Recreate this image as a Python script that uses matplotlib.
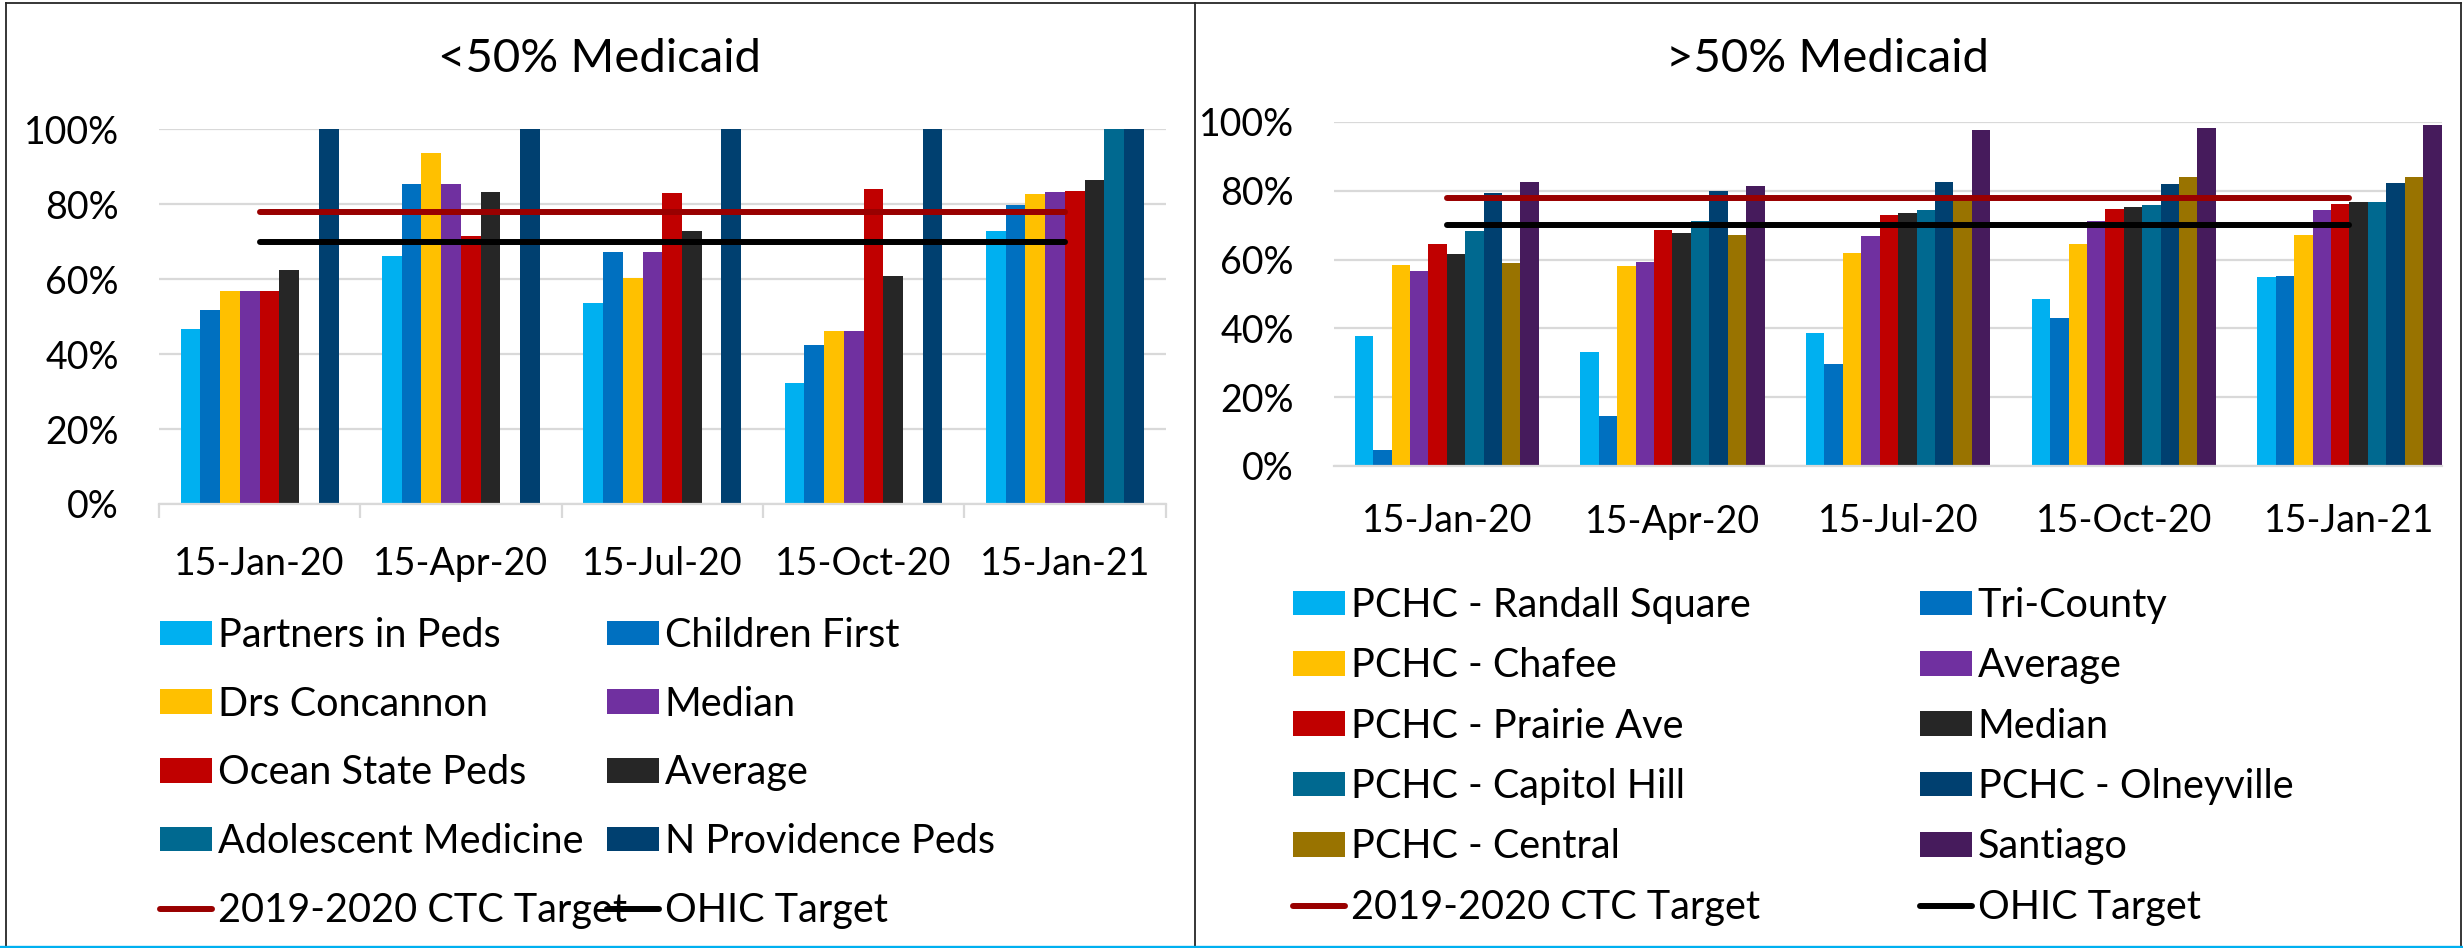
import numpy as np
import matplotlib.pyplot as plt
from matplotlib.patches import Patch
from matplotlib.lines import Line2D
from matplotlib.ticker import PercentFormatter

plt.rcParams['font.family'] = ['Lato', 'DejaVu Sans']

W, H = 2463, 948
dates = ['15-Jan-20', '15-Apr-20', '15-Jul-20', '15-Oct-20', '15-Jan-21']

# <50% Medicaid practices
low_names = ['Partners in Peds', 'Children First', 'Drs Concannon', 'Median',
             'Ocean State Peds', 'Average', 'Adolescent Medicine', 'N Providence Peds']
partners_in_peds = [0.466, 0.662, 0.538, 0.323, 0.730]
children_first = [0.517, 0.854, 0.673, 0.425, 0.798]
drs_concannon = [0.569, 0.936, 0.603, 0.461, 0.827]
low_median = [0.569, 0.854, 0.673, 0.461, 0.832]
ocean_state_peds = [0.569, 0.716, 0.830, 0.842, 0.835]
low_average = [0.624, 0.834, 0.729, 0.609, 0.866]
adolescent_medicine = [np.nan, np.nan, np.nan, np.nan, 1.0]
n_providence_peds = [1.0, 1.0, 1.0, 1.0, 1.0]
low_colors = ['#00B0F0', '#0070C0', '#FFC000', '#7030A0',
              '#C00000', '#262626', '#006990', '#004070']

# >50% Medicaid practices
high_names = ['PCHC - Randall Square', 'Tri-County', 'PCHC - Chafee', 'Average',
              'PCHC - Prairie Ave', 'Median', 'PCHC - Capitol Hill', 'PCHC - Olneyville',
              'PCHC - Central', 'Santiago']
randall_square = [0.377, 0.330, 0.386, 0.485, 0.550]
tri_county = [0.046, 0.144, 0.297, 0.430, 0.553]
chafee = [0.585, 0.580, 0.620, 0.645, 0.672]
high_average = [0.568, 0.593, 0.670, 0.713, 0.745]
prairie_ave = [0.645, 0.685, 0.730, 0.746, 0.762]
high_median = [0.617, 0.678, 0.736, 0.753, 0.766]
capitol_hill = [0.682, 0.713, 0.743, 0.760, 0.768]
olneyville = [0.793, 0.800, 0.827, 0.821, 0.823]
central = [0.591, 0.672, 0.782, 0.839, 0.841]
santiago = [0.826, 0.815, 0.976, 0.984, 0.991]
high_colors = ['#00B0F0', '#0070C0', '#FFC000', '#7030A0', '#C00000',
               '#262626', '#006990', '#004070', '#997300', '#461B5C']

ctc_target = [0.78, 0.78, 0.78, 0.78, 0.78]
ohic_target = [0.70, 0.70, 0.70, 0.70, 0.70]
line_names = ['2019-2020 CTC Target', 'OHIC Target']
line_colors = ['#990000', '#000000']

low_series = [partners_in_peds, children_first, drs_concannon, low_median,
              ocean_state_peds, low_average, adolescent_medicine, n_providence_peds]
high_series = [randall_square, tri_county, chafee, high_average, prairie_ave,
               high_median, capitol_hill, olneyville, central, santiago]

FS = 27
LEG_FS = 28.5
GRID = '#D9D9D9'


def px_axes(left, top, right, bottom):
    return fig.add_axes([left / W, 1 - bottom / H, (right - left) / W, (bottom - top) / H])


def draw_panel(ax, series, colors, width, xmax, tick_marks, xpad):
    x = np.arange(len(dates))
    n = len(series)
    for i, vals in enumerate(series):
        ax.bar(x + (i - (n - 1) / 2) * width, vals, width, color=colors[i], zorder=2)
    for vals, c in zip([ctc_target, ohic_target], line_colors):
        ax.plot(x, vals, color=c, lw=4.3, solid_capstyle='round', zorder=3)
    ax.set_ylim(0, 1)
    ax.set_xlim(-0.5, xmax)
    ax.set_yticks(np.arange(0, 1.01, 0.2))
    ax.yaxis.set_major_formatter(PercentFormatter(1.0, decimals=0))
    ax.yaxis.grid(True, color=GRID, lw=1.6)
    ax.set_axisbelow(True)
    ax.set_xticks(x)
    ax.set_xticklabels(dates)
    for s in ['left', 'right', 'top']:
        ax.spines[s].set_visible(False)
    ax.spines['bottom'].set_color(GRID)
    ax.spines['bottom'].set_linewidth(1.6)
    ax.tick_params(axis='y', length=0, pad=29, labelsize=FS)
    ax.tick_params(axis='x', which='major', length=0, pad=xpad, labelsize=FS)
    if tick_marks:
        ax.set_xticks(np.arange(-0.5, 5, 1), minor=True)
        ax.tick_params(axis='x', which='minor', length=10, width=1.6, color=GRID)


def add_legend(names, colors, kinds, x, y, spacing):
    handles = []
    for name, c, k in zip(names, colors, kinds):
        if k == 'bar':
            handles.append(Patch(facecolor=c, edgecolor='none'))
        else:
            handles.append(Line2D([], [], color=c, lw=4.3, solid_capstyle='round'))
    fig.legend(handles, names, loc='upper left', bbox_to_anchor=(x / W, 1 - y / H),
               frameon=False, fontsize=LEG_FS, borderpad=0, borderaxespad=0,
               handlelength=1.31, handleheight=0.58, handletextpad=0.15,
               labelspacing=spacing)


fig = plt.figure(figsize=(W / 100, H / 100), dpi=100)

ax1 = px_axes(159, 129.5, 1165.5, 504)
draw_panel(ax1, low_series, low_colors, 0.098, 4.5, True, 30)
ax2 = px_axes(1334, 122, 2442, 466)
draw_panel(ax2, high_series, high_colors, 0.0816, 4.41, False, 27)

fig.text(600 / W, 1 - 72 / H, '<50% Medicaid', ha='center', va='baseline', fontsize=34)
fig.text(1828 / W, 1 - 72 / H, '>50% Medicaid', ha='center', va='baseline', fontsize=34)

# legends, laid out row by row in two columns
low_all = low_names + line_names
low_cols = low_colors + line_colors
low_kinds = ['bar'] * 8 + ['line'] * 2
add_legend(low_all[0::2], low_cols[0::2], low_kinds[0::2], 160, 617, 0.80)
add_legend(low_all[1::2], low_cols[1::2], low_kinds[1::2], 607, 617, 0.80)

high_all = high_names + line_names
high_cols = high_colors + line_colors
high_kinds = ['bar'] * 10 + ['line'] * 2
add_legend(high_all[0::2], high_cols[0::2], high_kinds[0::2], 1293, 587, 0.59)
add_legend(high_all[1::2], high_cols[1::2], high_kinds[1::2], 1920, 587, 0.59)

# panel borders
def fig_line(x0, y0, x1, y1, color='#262626', lw=1.3):
    fig.add_artist(Line2D([x0 / W, x1 / W], [1 - y0 / H, 1 - y1 / H],
                          transform=fig.transFigure, color=color, lw=lw))

fig_line(6, 3, 2461, 3)
fig_line(6, 3, 6, 946)
fig_line(1195, 3, 1195, 946)
fig_line(2461, 3, 2461, 946)
fig_line(0, 946.5, W, 946.5, color='#00B0F0', lw=2.4)

fig.savefig('out.png', dpi=100)
